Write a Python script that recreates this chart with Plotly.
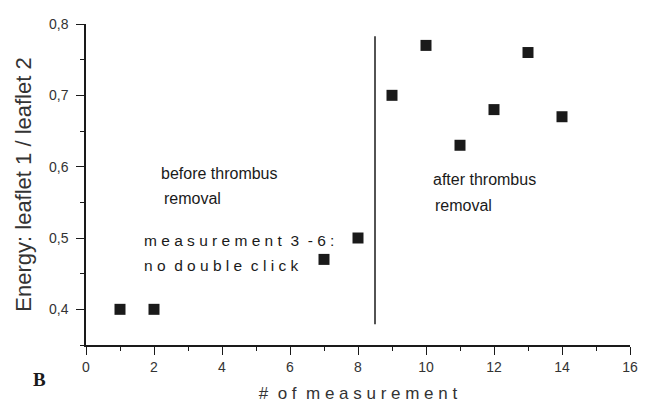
import plotly.graph_objects as go

# measurement index and energy ratio (leaflet 1 / leaflet 2)
measurement = [1, 2, 7, 8, 9, 10, 11, 12, 13, 14]
energy_ratio = [0.40, 0.40, 0.47, 0.50, 0.70, 0.77, 0.63, 0.68, 0.76, 0.67]

x_ticks = [0, 2, 4, 6, 8, 10, 12, 14, 16]
y_ticks = [0.4, 0.5, 0.6, 0.7, 0.8]
y_tick_labels = ["0,4", "0,5", "0,6", "0,7", "0,8"]

# thrombus removal happened between measurement 8 and 9
split_x = 8.5
split_y = [0.379, 0.783]

font_main = "Liberation Sans, Arial, sans-serif"
ink = "#1a1a1a"
grey = "#333333"

fig = go.Figure()

fig.add_trace(go.Scatter(
    x=measurement, y=energy_ratio, mode="markers",
    marker=dict(symbol="square", size=11, color=ink, line=dict(width=0)),
    showlegend=False, hoverinfo="x+y",
))

fig.add_trace(go.Scatter(
    x=[split_x, split_x], y=split_y, mode="lines",
    line=dict(color=ink, width=1.5), showlegend=False, hoverinfo="skip",
))

# text notes, one annotation per line
notes = [
    (2.14, 0.590, "before thrombus", 16),
    (2.23, 0.555, "removal", 16),
    (1.65, 0.496, "m e a s u r e m e n t  3  - 6 :", 15.5),
    (1.65, 0.461, "n o  d o u b l e  c l i c k", 15.5),
    (10.14, 0.582, "after thrombus", 16),
    (10.20, 0.546, "removal", 16),
]
for x, y, text, size in notes:
    fig.add_annotation(
        x=x, y=y, xref="x", yref="y", text=text, showarrow=False,
        xanchor="left", yanchor="middle",
        font=dict(family=font_main, size=size, color=ink),
    )

# panel letter
fig.add_annotation(
    x=-0.085, y=-0.108, xref="paper", yref="paper", text="<b>B</b>", showarrow=False,
    xanchor="center", yanchor="middle",
    font=dict(family="Liberation Serif, Times New Roman, serif", size=19, color=ink),
)

axis_common = dict(
    showline=True, linecolor=ink, linewidth=1.5, showgrid=False, zeroline=False,
    ticks="outside", ticklen=8, tickwidth=1, tickcolor=ink,
    tickfont=dict(family=font_main, size=14, color=grey),
)

fig.update_layout(
    width=646, height=408,
    margin=dict(l=86, r=8, t=24, b=59),
    paper_bgcolor="white", plot_bgcolor="white",
    xaxis=dict(
        range=[0, 16], tickvals=x_ticks,
        title=dict(text="#  o f  m e a s u r e m e n t", standoff=14,
                   font=dict(family=font_main, size=17, color=grey)),
        minor=dict(ticks="outside", ticklen=4, tickcolor=ink, dtick=1),
        **axis_common,
    ),
    yaxis=dict(
        range=[0.35, 0.8], tickvals=y_ticks, ticktext=y_tick_labels,
        ticklabelstandoff=5,
        title=dict(text="Energy: leaflet 1 / leaflet 2", standoff=11,
                   font=dict(family=font_main, size=22, color=grey)),
        minor=dict(ticks="outside", ticklen=4, tickcolor=ink, dtick=0.05, tick0=0.35),
        **axis_common,
    ),
)

fig.write_html("out.html")
